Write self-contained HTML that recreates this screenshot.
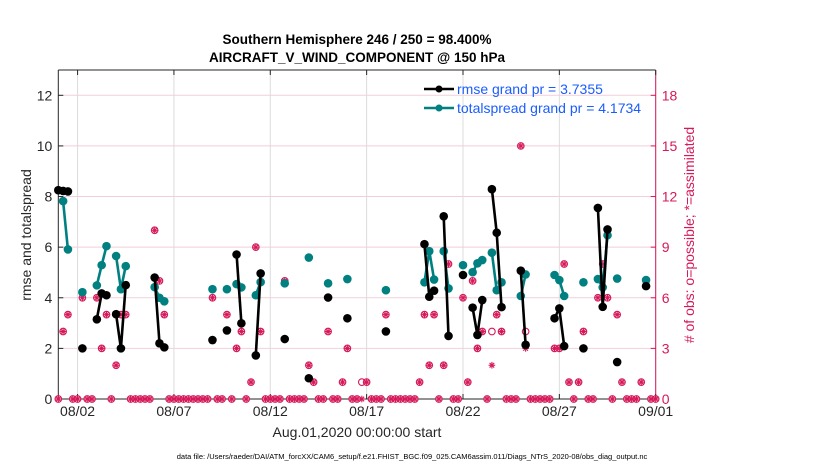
<!DOCTYPE html>
<html><head><meta charset="utf-8">
<style>
html,body{margin:0;padding:0;background:#fff;}
svg{display:block;font-family:"Liberation Sans",Arial,sans-serif;}
</style></head>
<body>
<svg id="chart" width="830" height="470" viewBox="0 0 830 470" xmlns="http://www.w3.org/2000/svg">
  <rect x="0" y="0" width="830" height="470" fill="#fff"/>
  <g id="grid"></g>
  <g id="axes"></g>
  <g id="obs"></g>
  <g id="spread"></g>
  <g id="rmse"></g>
  <text x="357" y="44" text-anchor="middle" font-size="13.5" font-weight="bold" fill="#000">Southern Hemisphere 246 / 250 = 98.400%</text>
  <text x="357" y="62" text-anchor="middle" font-size="13.5" font-weight="bold" fill="#000">AIRCRAFT_V_WIND_COMPONENT @ 150 hPa</text>
  <text transform="translate(31,235) rotate(-90)" text-anchor="middle" font-size="14" fill="#262626">rmse and totalspread</text>
  <text transform="translate(694,235) rotate(-90)" text-anchor="middle" font-size="14" fill="#d6195a"># of obs: o=possible; *=assimilated</text>
  <text x="357" y="437" text-anchor="middle" font-size="14" fill="#262626">Aug.01,2020 00:00:00 start</text>
  <text x="412" y="459" text-anchor="middle" font-size="7.5" fill="#000">data file: /Users/raeder/DAI/ATM_forcXX/CAM6_setup/f.e21.FHIST_BGC.f09_025.CAM6assim.011/Diags_NTrS_2020-08/obs_diag_output.nc</text>
  <g id="legend">
    <line x1="424" y1="89" x2="454" y2="89" stroke="#000" stroke-width="2.5"/>
    <circle cx="439" cy="89" r="3.5" fill="#000"/>
    <text x="457" y="94" font-size="14" fill="#1a5cff">rmse grand pr = 3.7355</text>
    <line x1="424" y1="108" x2="454" y2="108" stroke="#008080" stroke-width="2.5"/>
    <circle cx="439" cy="108" r="3.5" fill="#008080"/>
    <text x="457" y="113" font-size="14" fill="#1a5cff">totalspread grand pr = 4.1734</text>
  </g>
</svg>
<script>
// ---- data ----
const rmseDays = [0,0.25,0.5,null,1.25,null,2,2.25,2.5,null,3,3.25,3.5,null,5,5.25,5.5,null,8,null,8.75,null,9.25,9.5,null,10.25,10.5,null,11.75,null,13,null,14,null,15,null,17,null,19,19.25,19.5,null,20,20.25,null,21,null,21.5,21.75,22,null,22.5,22.75,23,null,24,24.25,null,25.75,26,26.25,null,27.25,null,28,28.25,28.5,null,29,null,30.5];
const rmseVals = [8.25,8.22,8.2,null,2.0,null,3.15,4.17,4.1,null,3.35,2.0,4.5,null,4.8,2.2,2.04,null,2.33,null,2.71,null,5.71,2.99,null,1.72,4.96,null,2.37,null,0.82,null,4.01,null,3.19,null,2.67,null,6.12,4.04,4.28,null,7.22,2.49,null,4.9,null,3.61,2.53,3.91,null,8.29,6.57,3.63,null,5.07,2.14,null,3.19,3.58,2.09,null,2.0,null,7.55,3.64,6.7,null,1.46,null,4.46];
const spreadVals = [null,7.82,5.91,null,4.22,null,4.49,5.29,6.04,null,5.65,4.34,5.25,null,4.42,4.0,3.86,null,4.34,null,4.34,null,4.54,4.41,null,4.1,4.62,null,4.57,null,5.59,null,4.57,null,4.74,null,4.3,null,4.61,5.84,4.72,null,5.84,4.37,null,5.29,null,5.01,5.36,5.49,null,5.78,4.3,4.61,null,4.07,4.92,null,4.9,4.7,4.07,null,4.61,null,4.74,4.41,6.47,null,4.76,null,4.7];
const obsDays = [];
for (let d = 0; d <= 31; d += 0.25) obsDays.push(d);
const possibleCounts = [0,4,5,0,0,6,0,0,6,3,5,0,2,5,5,0,0,0,0,0,10,7,5,0,0,0,0,0,0,0,0,0,6,0,0,5,0,3,4,0,1,9,4,0,0,0,0,7,0,0,0,0,2,1,0,0,4,0,0,1,3,0,0,1,1,0,0,0,5,0,0,0,0,0,0,1,5,2,5,0,2,8,0,0,6,1,7,3,4,0,4,5,4,0,0,0,15,4,0,0,0,0,0,3,3,8,1,0,1,4,0,0,6,8,6,0,5,1,0,0,0,1,7,0,0];
const assimCounts   = [0,4,5,0,0,6,0,0,6,3,5,0,2,5,5,0,0,0,0,0,10,7,5,0,0,0,0,0,0,0,0,0,6,0,0,5,0,3,4,0,1,9,4,0,0,0,0,7,0,0,0,0,2,1,0,0,4,0,0,1,3,0,0,0,1,0,0,0,5,0,0,0,0,0,0,1,5,2,5,0,2,8,0,0,6,1,7,3,4,0,2,5,4,0,0,0,15,3,0,0,0,0,0,3,3,8,1,0,1,4,0,0,6,8,6,0,5,1,0,0,0,1,7,0,0];
const xTickDays = [1,6,11,16,21,26,31];
const xTickLabels = ['08/02','08/07','08/12','08/17','08/22','08/27','09/01'];
const yTicks = [0,2,4,6,8,10,12];
const y2Ticks = [0,3,6,9,12,15,18];

// ---- scales ----
const L=58.3, R=655.7, T=70, B=399;
const xMax=31, yMax=13, y2Max=19.5;
const xs = d => L + d*(R-L)/xMax;
const ys = v => B - v*(B-T)/yMax;
const y2s = v => B - v*(B-T)/y2Max;
const NS='http://www.w3.org/2000/svg';
function mk(tag, attrs, parent){const e=document.createElementNS(NS,tag);for(const k in attrs)e.setAttribute(k,attrs[k]);parent.appendChild(e);return e;}
const PINK='#d6195a';
const grid=document.getElementById('grid'), axes=document.getElementById('axes');

// grid
xTickDays.forEach(d=>{const l=mk('line',{x1:xs(d),x2:xs(d),y1:T,y2:B,stroke:'#dcdcdc','stroke-width':1},grid);

});
y2Ticks.forEach(v=>{if(v===0)return;const l=mk('line',{x1:L,x2:R,y1:y2s(v),y2:y2s(v),stroke:'#f2cfdc','stroke-width':1},grid);

});

// axes frame
mk('line',{x1:L,x2:R,y1:T,y2:T,stroke:'#262626','stroke-width':1},axes);
mk('line',{x1:L,x2:R,y1:B,y2:B,stroke:'#262626','stroke-width':1},axes);
mk('line',{x1:L,x2:L,y1:T,y2:B,stroke:'#262626','stroke-width':1},axes);
mk('line',{x1:R,x2:R,y1:T,y2:B,stroke:PINK,'stroke-width':1},axes);

xTickDays.forEach((d,i)=>{
  mk('line',{x1:xs(d),x2:xs(d),y1:B,y2:B-5,stroke:'#262626'},axes);
  mk('line',{x1:xs(d),x2:xs(d),y1:T,y2:T+5,stroke:'#262626'},axes);
  const t=mk('text',{x:xs(d),y:B+17,'text-anchor':'middle','font-size':14,fill:'#262626'},axes);
  
  
  t.textContent=xTickLabels[i];
});
yTicks.forEach(v=>{
  mk('line',{x1:L,x2:L+5,y1:ys(v),y2:ys(v),stroke:'#262626'},axes);
  const t=mk('text',{x:L-6,y:ys(v)+5,'text-anchor':'end','font-size':14,fill:'#262626'},axes);
  
  
  t.textContent=v;
});
y2Ticks.forEach(v=>{
  mk('line',{x1:R-5,x2:R,y1:y2s(v),y2:y2s(v),stroke:PINK},axes);
  const t=mk('text',{x:R+6,y:y2s(v)+5,'text-anchor':'start','font-size':14,fill:PINK},axes);
  
  
  t.textContent=v;
});

// obs counts
const obsG=document.getElementById('obs');
obsDays.forEach((d,i)=>{
  const x=xs(d);
  if(possibleCounts[i]!=null){
    const c=mk('circle',{cx:x,cy:y2s(possibleCounts[i]),r:3.3,fill:'none',stroke:PINK,'stroke-width':1.1},obsG);
    
    
  }
  if(assimCounts[i]!=null){
    const y=y2s(assimCounts[i]);
    const g=mk('g',{stroke:PINK,'stroke-width':1.1},obsG);
    
    
    const r=3.3;
    mk('line',{x1:x-r,x2:x+r,y1:y,y2:y},g);
    mk('line',{x1:x,x2:x,y1:y-r,y2:y+r},g);
    mk('line',{x1:x-r*0.7,x2:x+r*0.7,y1:y-r*0.7,y2:y+r*0.7},g);
    mk('line',{x1:x-r*0.7,x2:x+r*0.7,y1:y+r*0.7,y2:y-r*0.7},g);
  }
});

function drawSeries(gid, days, vals, color, name){
  const g=document.getElementById(gid);
  let seg=[];
  const flush=()=>{ if(seg.length>1){const p=mk('polyline',{points:seg.join(' '),fill:'none',stroke:color,'stroke-width':2.6,'stroke-linejoin':'round'},g);
    
    } seg=[]; };
  days.forEach((d,i)=>{
    const v=vals[i];
    if(d==null||v==null){flush();return;}
    seg.push(xs(d).toFixed(1)+','+ys(v).toFixed(1));
  });
  flush();
  days.forEach((d,i)=>{
    const v=vals[i];
    if(d==null||v==null)return;
    const c=mk('circle',{cx:xs(d),cy:ys(v),r:4.3,fill:color},g);
    
    
  });
}
drawSeries('spread', rmseDays, spreadVals, '#008080', 'totalspread');
drawSeries('rmse', rmseDays, rmseVals, '#000000', 'rmse');
</script>
</body></html>
